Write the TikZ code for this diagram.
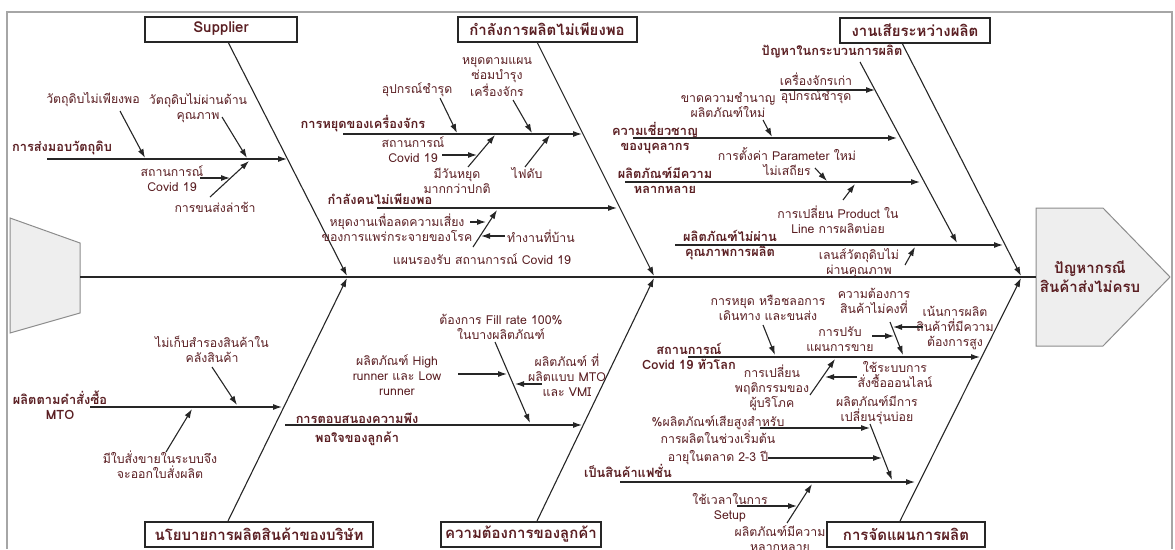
\documentclass[tikz,border=0pt]{standalone}
\usepackage{fontspec}
\setmainfont[Script=Thai]{Loma}
\usetikzlibrary{arrows.meta}
\definecolor{txt}{RGB}{90,30,34}
\definecolor{shade}{RGB}{238,238,238}

\begin{document}
\begin{tikzpicture}[x=1pt,y=-1pt,>={Latex[length=9pt,width=6pt]},
  bone/.style={line width=1.1pt,draw=black!85,->},
  line/.style={line width=1.1pt,draw=black!85},
  lbl/.style={text=txt,align=center,inner sep=0pt,font=\fontsize{12.3}{15}\selectfont},
  blbl/.style={lbl,font=\bfseries\fontsize{12.8}{15}\selectfont},
  cat/.style={draw=black!85,line width=2pt,fill=white,text=txt,inner xsep=4pt,inner ysep=0pt,minimum height=25pt,font=\bfseries\fontsize{15}{18}\selectfont}]
\useasboundingbox (0,0) rectangle (1175,549);
\draw[black!35,line width=1.5pt] (7,549) -- (7,12) -- (1172,12) -- (1172,549);

% head and tail
\draw[fill=shade,draw=black!45,line width=1pt] (10,218) -- (80,243) -- (80,313) -- (10,333) -- cycle;
\draw[fill=shade,draw=black!45,line width=1pt] (1036,208) -- (1103,208) -- (1170,277) -- (1103,346) -- (1036,346) -- cycle;
\node[blbl,font=\bfseries\fontsize{15}{19}\selectfont] (prob) at (1090,277) {ปัญหากรณี\\สินค้าส่งไม่ครบ};
\coordinate (tail) at (80,277);
\coordinate (head) at (1036,277);
\draw[line] (tail) -- (head);

% category boxes
\node[cat,minimum width=152pt] (sup) at (221,29) {Supplier};
\node[cat,minimum width=179pt] (cap) at (547,29) {กำลังการผลิตไม่เพียงพอ};
\node[cat,minimum width=150pt] (waste) at (915,30) {งานเสียระหว่างผลิต};
\node[cat,minimum width=228pt] (pol) at (259,534) {นโยบายการผลิตสินค้าของบริษัท};
\node[cat,minimum width=157pt] (cust) at (521,534) {ความต้องการของลูกค้า};
\node[cat,minimum width=158pt] (plan) at (906,534) {การจัดแผนการผลิต};

% main bones
\coordinate (b1s) at (228,42);  \coordinate (b1e) at (347,276);
\coordinate (b2s) at (537,42);  \coordinate (b2e) at (654,276);
\coordinate (b3s) at (902,43);  \coordinate (b3e) at (1021,276);
\coordinate (b4s) at (228,521); \coordinate (b4e) at (347,278);
\coordinate (b5s) at (537,521); \coordinate (b5e) at (654,278);
\coordinate (b6s) at (900,521); \coordinate (b6e) at (1021,278);
\foreach \i in {1,...,6} \draw[bone] (b\i s) -- (b\i e);

% Supplier
\node[blbl] (deliv) at (62,148) {การส่งมอบวัตถุดิบ};
\node[lbl] (lack) at (93,100) {วัตถุดิบไม่เพียงพอ};
\node[lbl] (qual) at (198,108) {วัตถุดิบไม่ผ่านด้าน\\คุณภาพ};
\node[lbl] (cov1) at (172,179) {สถานการณ์\\Covid 19};
\node[lbl] (late) at (215,207) {การขนส่งล่าช้า};
\coordinate (h1s) at (47,159); \coordinate (h1e) at (287,159);
\coordinate (a1s) at (120,111); \coordinate (a1e) at (145,158);
\coordinate (a2s) at (222,117); \coordinate (a2e) at (247,158);
\coordinate (a3s) at (210,197); \coordinate (a3e) at (249,161);
\coordinate (a4s) at (200,178); \coordinate (a4e) at (230,178);
\foreach \n in {h1,a1,a2,a3,a4} \draw[bone] (\n s) -- (\n e);

% production capacity
\node[blbl] (stop) at (363,124) {การหยุดของเครื่องจักร};
\node[lbl] (broke) at (417,90) {อุปกรณ์ชำรุด};
\node[lbl] (maint) at (497,77) {หยุดตามแผน\\ซ่อมบำรุง\\เครื่องจักร};
\node[lbl] (cov2) at (413,150) {สถานการณ์\\Covid 19};
\node[lbl] (hol) at (457,181) {มีวันหยุด\\มากกว่าปกติ};
\node[lbl] (power) at (527,173) {ไฟดับ};
\node[blbl] (staff) at (380,199) {กำลังคนไม่เพียงพอ};
\node[lbl] (risk) at (397,228) {หยุดงานเพื่อลดความเสี่ยง\\ของการแพร่กระจายของโรค};
\node[lbl] (home) at (541,236) {ทำงานที่บ้าน};
\node[lbl] (plan19) at (482,259) {แผนรองรับ สถานการณ์ Covid 19};
\coordinate (h2s) at (343,134); \coordinate (h2e) at (582,134);
\coordinate (h3s) at (377,208); \coordinate (h3e) at (617,208);
\coordinate (a5s) at (440,98);  \coordinate (a5e) at (457,133);
\coordinate (a6s) at (513,100); \coordinate (a6e) at (532,133);
\coordinate (a7s) at (468,167); \coordinate (a7e) at (495,135);
\coordinate (a8s) at (442,155); \coordinate (a8e) at (477,155);
\coordinate (a9s) at (525,167); \coordinate (a9e) at (550,135);
\coordinate (a10s) at (473,247); \coordinate (a10e) at (497,210);
\coordinate (a11s) at (470,222); \coordinate (a11e) at (486,222);
\coordinate (a12s) at (505,236); \coordinate (a12e) at (481,236);
\foreach \n in {h2,h3,a5,a6,a7,a8,a9,a10,a11,a12} \draw[bone] (\n s) -- (\n e);

% waste
\node[blbl] (proc) at (832,52) {ปัญหาในกระบวนการผลิต};
\node[lbl] (old) at (816,88) {เครื่องจักรเก่า\\อุปกรณ์ชำรุด};
\node[lbl] (skill) at (728,105) {ขาดความชำนาญ\\ผลิตภัณฑ์ใหม่};
\node[blbl] (exp) at (655,138) {ความเชี่ยวชาญ\\ของบุคลากร};
\node[lbl] (param) at (787,162) {การตั้งค่า Parameter ใหม่\\ไม่เสถียร};
\node[blbl] (var1) at (665,180) {ผลิตภัณฑ์มีความ\\หลากหลาย};
\node[lbl] (chg) at (838,220) {การเปลี่ยน Product ใน\\Line การผลิตบ่อย};
\node[blbl] (fail) at (730,245) {ผลิตภัณฑ์ไม่ผ่าน\\คุณภาพการผลิต};
\node[lbl] (lens) at (859,263) {เลนส์วัตถุดิบไม่\\ผ่านคุณภาพ};
\coordinate (h4s) at (633,138); \coordinate (h4e) at (897,138);
\coordinate (h5s) at (625,182); \coordinate (h5e) at (920,182);
\coordinate (h6s) at (675,245); \coordinate (h6e) at (1003,245);
\coordinate (h7s) at (860,62);  \coordinate (h7e) at (957,243);
\coordinate (a13s) at (780,90);  \coordinate (a13e) at (875,90);
\coordinate (a14s) at (763,120); \coordinate (a14e) at (772,137);
\coordinate (a15s) at (815,168); \coordinate (a15e) at (827,181);
\coordinate (a16s) at (843,200); \coordinate (a16e) at (855,184);
\coordinate (a17s) at (905,265); \coordinate (a17e) at (915,247);
\foreach \n in {h4,h5,h6,h7,a13,a14,a15,a16,a17} \draw[bone] (\n s) -- (\n e);

% company policy
\node[lbl] (stock) at (212,349) {ไม่เก็บสำรองสินค้าใน\\คลังสินค้า};
\node[blbl] (mto) at (60,405) {ผลิตตามคำสั่งซื้อ\\MTO};
\node[lbl] (order) at (160,465) {มีใบสั่งขายในระบบจึง\\จะออกใบสั่งผลิต};
\coordinate (h8s) at (90,407); \coordinate (h8e) at (282,407);
\coordinate (a18s) at (212,367); \coordinate (a18e) at (237,405);
\coordinate (a19s) at (166,452); \coordinate (a19e) at (192,409);
\foreach \n in {h8,a18,a19} \draw[bone] (\n s) -- (\n e);

% customer needs
\node[blbl,font=\bfseries\fontsize{12.8}{19}\selectfont] (resp) at (357,429) {การตอบสนองความพึง\\พอใจของลูกค้า};
\node[lbl] (fill) at (501,327) {ต้องการ Fill rate 100\%\\ในบางผลิตภัณฑ์};
\node[lbl] (runner) at (397,375) {ผลิตภัณฑ์ High\\runner และ Low\\runner};
\node[lbl] (vmi) at (567,375) {ผลิตภัณฑ์ ที่\\ผลิตแบบ MTO\\และ VMI};
\coordinate (h9s) at (285,425); \coordinate (h9e) at (582,425);
\coordinate (a20s) at (495,342); \coordinate (a20e) at (530,423);
\coordinate (a21s) at (458,374); \coordinate (a21e) at (507,374);
\coordinate (a22s) at (542,384); \coordinate (a22e) at (515,384);
\foreach \n in {h9,a20,a21,a22} \draw[bone] (\n s) -- (\n e);

% production planning
\node[blbl] (cov3) at (689,356) {สถานการณ์\\Covid 19 ทั่วโลก};
\node[lbl] (travel) at (768,308) {การหยุด หรือชลอการ\\เดินทาง และขนส่ง};
\node[lbl] (behav) at (772,388) {การเปลี่ยน\\พฤติกรรมของ\\ผู้บริโภค};
\node[lbl] (online) at (895,375) {ใช้ระบบการ\\สั่งซื้อออนไลน์};
\node[lbl] (demand) at (874,301) {ความต้องการ\\สินค้าไม่คงที่};
\node[lbl] (sales) at (840,339) {การปรับ\\แผนการขาย};
\node[lbl] (focus) at (955,328) {เน้นการผลิต\\สินค้าที่มีความ\\ต้องการสูง};
\node[blbl] (fash) at (628,471) {เป็นสินค้าแฟชั่น};
\node[lbl] (model) at (877,410) {ผลิตภัณฑ์มีการ\\เปลี่ยนรุ่นบ่อย};
\node[lbl] (scrap) at (718,430) {\%ผลิตภัณฑ์เสียสูงสำหรับ\\การผลิตในช่วงเริ่มต้น};
\node[lbl] (life) at (718,458) {อายุในตลาด 2-3 ปี};
\node[lbl] (setup) at (730,508) {ใช้เวลาในการ\\Setup};
\node[lbl] (var2) at (780,539) {ผลิตภัณฑ์มีความ\\หลากหลาย};
\coordinate (h10s) at (688,357); \coordinate (h10e) at (980,357);
\coordinate (h11s) at (620,482); \coordinate (h11e) at (915,482);
\coordinate (a23s) at (763,325); \coordinate (a23e) at (775,355);
\coordinate (a24s) at (810,395); \coordinate (a24e) at (835,359);
\coordinate (a25s) at (857,377); \coordinate (a25e) at (825,377);
\coordinate (a26s) at (890,322); \coordinate (a26e) at (903,355);
\coordinate (a27s) at (872,336); \coordinate (a27e) at (894,336);
\coordinate (a28s) at (923,327); \coordinate (a28e) at (893,327);
\coordinate (a29s) at (870,424); \coordinate (a29e) at (892,480);
\coordinate (a30s) at (760,428); \coordinate (a30e) at (870,428);
\coordinate (a31s) at (768,458); \coordinate (a31e) at (882,458);
\coordinate (a32s) at (787,523); \coordinate (a32e) at (812,484);
\coordinate (a33s) at (737,506); \coordinate (a33e) at (797,506);
\foreach \n in {h10,h11,a23,a24,a25,a26,a27,a28,a29,a30,a31,a32,a33} \draw[bone] (\n s) -- (\n e);
\end{tikzpicture}
\end{document}
